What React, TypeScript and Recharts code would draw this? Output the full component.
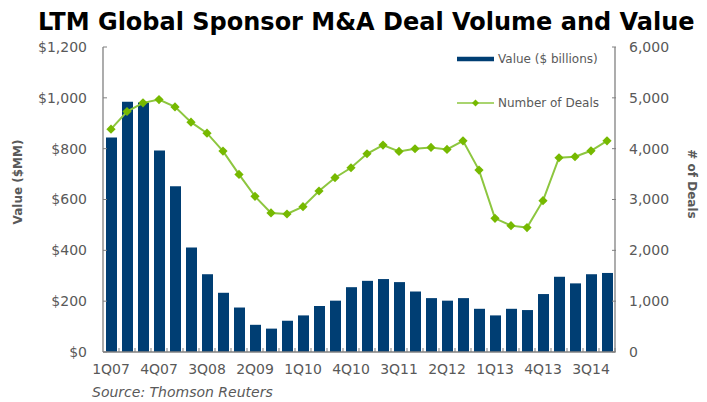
import React from 'react';
import { ComposedChart, Bar, Line, XAxis, YAxis, Legend, Label } from 'recharts';

const quarters = [
  '1Q07', '2Q07', '3Q07', '4Q07', '1Q08', '2Q08', '3Q08', '4Q08',
  '1Q09', '2Q09', '3Q09', '4Q09', '1Q10', '2Q10', '3Q10', '4Q10',
  '1Q11', '2Q11', '3Q11', '4Q11', '1Q12', '2Q12', '3Q12', '4Q12',
  '1Q13', '2Q13', '3Q13', '4Q13', '1Q14', '2Q14', '3Q14', '4Q14'
];

// LTM deal value, $MM (left axis)
const dealValue = [
  844, 985, 982, 793, 652, 411, 306, 233,
  175, 107, 92, 123, 144, 181, 202, 255,
  280, 287, 275, 238, 212, 202, 212, 170,
  144, 170, 165, 228, 296, 270, 306, 311
];

// LTM number of deals (right axis)
const dealCount = [
  4384, 4731, 4901, 4966, 4822, 4521, 4305, 3952,
  3494, 3062, 2735, 2715, 2859, 3167, 3429, 3625,
  3900, 4070, 3945, 3998, 4024, 3985, 4155, 3579,
  2630, 2486, 2447, 2977, 3821, 3841, 3958, 4155
];

const leftTicks = [0, 200, 400, 600, 800, 1000, 1200];
const rightTicks = [0, 1000, 2000, 3000, 4000, 5000, 6000];

const data = quarters.map((q, i) => ({ q, value: dealValue[i], deals: dealCount[i] }));

const FONT = '"DejaVu Sans", sans-serif';
const BAR = '#003E73';
const LINE = '#8DC63F';
const MARK = '#76B900';
const AXIS = '#808080';
const TXT = '#595959';

const fmt = (v: number) => v.toLocaleString('en-US');

const LeftTick = (props: any) => {
  const { x, y, payload } = props;
  return (
    <g>
      <line x1={x + 16} x2={x + 20} y1={y} y2={y} stroke={AXIS} />
      <text x={x} y={y} dy="0.355em" textAnchor="end" fontSize={14} fill={TXT} fontFamily={FONT}>
        {'$' + fmt(payload.value)}
      </text>
    </g>
  );
};

const RightTick = (props: any) => {
  const { x, y, payload } = props;
  return (
    <g>
      <line x1={x - 13} x2={x - 17} y1={y} y2={y} stroke={AXIS} />
      <text x={x} y={y} dy="0.355em" textAnchor="start" fontSize={14} fill={TXT} fontFamily={FONT}>
        {fmt(payload.value)}
      </text>
    </g>
  );
};

const BottomTick = (props: any) => {
  const { x, y, payload, index } = props;
  return (
    <g>
      <line x1={x + 8} x2={x + 8} y1={y - 12} y2={y - 16} stroke={AXIS} />
      {index % 3 === 0 && (
        <text x={x} y={y} dy="0.71em" textAnchor="middle" fontSize={14} fill={TXT} fontFamily={FONT}>
          {payload.value}
        </text>
      )}
    </g>
  );
};

const Diamond = (props: any) => {
  const { cx, cy } = props;
  if (cx == null || cy == null) return null;
  const r = 4.6;
  return (
    <path
      d={`M${cx},${cy - r}L${cx + r},${cy}L${cx},${cy + r}L${cx - r},${cy}Z`}
      fill={MARK}
      stroke="none"
    />
  );
};

const LegendBox = () => (
  <div style={{ fontFamily: FONT, fontSize: 12, color: TXT, position: 'relative', width: 170, height: 70 }}>
    <div style={{ position: 'absolute', left: 0, top: 0, height: 18, display: 'flex', alignItems: 'center' }}>
      <svg width={42} height={18} style={{ display: 'block' }}>
        <line x1={1} x2={38} y1={9} y2={9} stroke={BAR} strokeWidth={4.5} />
      </svg>
      <span>Value ($ billions)</span>
    </div>
    <div style={{ position: 'absolute', left: 0, top: 44, height: 18, display: 'flex', alignItems: 'center' }}>
      <svg width={42} height={18} style={{ display: 'block' }}>
        <line x1={1} x2={38} y1={9} y2={9} stroke={LINE} strokeWidth={1.5} />
        <path d="M19.5,5.5L23,9L19.5,12.5L16,9Z" fill={MARK} />
      </svg>
      <span>Number of Deals</span>
    </div>
  </div>
);

export default function App() {
  return (
    <div style={{ position: 'absolute', left: 0, top: 0, width: 707, height: 402, background: '#fff' }}>
      <div
        style={{
          position: 'absolute',
          left: 38,
          top: 8,
          fontFamily: FONT,
          fontWeight: 'bold',
          fontSize: 24,
          lineHeight: '28px',
          color: '#000',
          whiteSpace: 'nowrap'
        }}
      >
        LTM Global Sponsor M&amp;A Deal Volume and Value
      </div>
      <ComposedChart
        width={707}
        height={402}
        data={data}
        margin={{ top: 47, right: 32, bottom: 30, left: 43 }}
      >
        <XAxis
          dataKey="q"
          xAxisId={0}
          interval={0}
          height={20}
          tickSize={0}
          tickMargin={12}
          tick={<BottomTick />}
          axisLine={{ stroke: AXIS, strokeWidth: 1.3 }}
        />
        <YAxis
          yAxisId="left"
          orientation="left"
          width={60}
          domain={[0, 1200]}
          ticks={leftTicks}
          tickSize={0}
          tickMargin={16}
          tick={<LeftTick />}
          axisLine={{ stroke: AXIS, strokeWidth: 1.3 }}
        >
          <Label
            content={() => (
              <text
                x={18}
                y={182}
                transform="rotate(-90 18 182)"
                textAnchor="middle"
                dominantBaseline="central"
                fontFamily={FONT}
                fontWeight="bold"
                fontSize={12}
                fill={TXT}
              >
                Value ($MM)
              </text>
            )}
          />
        </YAxis>
        <YAxis
          yAxisId="right"
          orientation="right"
          width={60}
          domain={[0, 6000]}
          ticks={rightTicks}
          tickSize={0}
          tickMargin={14}
          tick={<RightTick />}
          axisLine={{ stroke: AXIS, strokeWidth: 1.3 }}
        >
          <Label
            content={() => (
              <text
                x={692}
                y={184}
                transform="rotate(90 692 184)"
                textAnchor="middle"
                dominantBaseline="central"
                fontFamily={FONT}
                fontWeight="bold"
                fontSize={12}
                fill={TXT}
              >
                # of Deals
              </text>
            )}
          />
        </YAxis>
        <Legend
          layout="vertical"
          align="center"
          verticalAlign="middle"
          content={<LegendBox />}
          wrapperStyle={{ left: 456, top: 50, width: 170 }}
        />
        <Bar
          yAxisId="left"
          dataKey="value"
          name="Value ($ billions)"
          fill={BAR}
          barSize={11}
          isAnimationActive={false}
        />
        <Line
          yAxisId="right"
          dataKey="deals"
          name="Number of Deals"
          stroke={LINE}
          strokeWidth={2}
          dot={<Diamond />}
          activeDot={false}
          isAnimationActive={false}
        />
      </ComposedChart>
      <div
        style={{
          position: 'absolute',
          left: 92,
          top: 384,
          fontFamily: FONT,
          fontStyle: 'italic',
          fontSize: 14,
          lineHeight: '16px',
          color: TXT,
          whiteSpace: 'nowrap'
        }}
      >
        Source: Thomson Reuters
      </div>
    </div>
  );
}
